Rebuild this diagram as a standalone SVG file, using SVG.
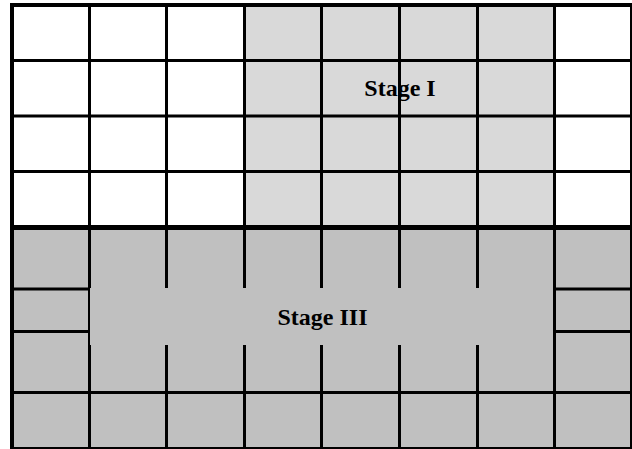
<svg xmlns="http://www.w3.org/2000/svg" width="632" height="449" viewBox="0 0 632 449">
<style>
.ln{stroke:#000;stroke-width:3;fill:none}
.lbl{font-family:"Liberation Serif","Times New Roman",serif;font-weight:bold;font-size:24px;fill:#000;text-anchor:middle}
</style>
<rect x="0" y="0" width="632" height="449" fill="#fff"/>
<g id="stage1-region">
<rect x="244.5" y="5" width="310" height="222.5" fill="#d9d9d9"/>
</g>
<g id="stage3-region-bg">
<rect x="12" y="227.5" width="620" height="221.5" fill="#c0c0c0"/>
</g>
<g id="grid-top" class="ln">
<path d="M89.5 5V227.5M166.5 5V227.5M244.5 5V227.5M321.5 5V227.5M399.5 5V227.5M477.5 5V227.5M554.5 5V227.5"/>
<path d="M12 60.5H632M12 116H632M12 171.5H632"/>
</g>
<g id="grid-bottom" class="ln">
<path d="M89.5 227.5V449M166.5 227.5V449M244.5 227.5V449M321.5 227.5V449M399.5 227.5V449M477.5 227.5V449M554.5 227.5V449"/>
<path d="M12 392.5H632"/>
<path d="M12 289H89.5M12 331.5H89.5M554.5 289H632M554.5 331.5H632"/>
</g>
<g id="stage3">
<rect x="90" y="288" width="463" height="57" fill="#c0c0c0"/>
<text class="lbl" x="322.5" y="325">Stage III</text>
</g>
<g id="stage1">
<text class="lbl" x="400" y="96">Stage I</text>
</g>
<g id="borders">
<path d="M12 227.5H632" stroke="#000" stroke-width="5"/>
<rect x="12" y="5" width="620" height="444" fill="none" stroke="#000" stroke-width="4"/>
</g>
</svg>
